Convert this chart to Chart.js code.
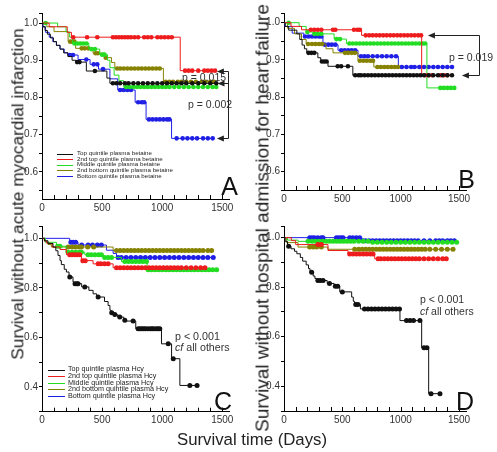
<!DOCTYPE html>
<html><head><meta charset="utf-8">
<script src="https://cdn.jsdelivr.net/npm/chart.js@4.4.1/dist/chart.umd.min.js"></script>
<style>
html,body{margin:0;padding:0;background:#fff;}
#wrap{position:relative;width:497px;height:452px;overflow:hidden;font-family:'Liberation Sans',Arial,sans-serif;}
canvas{position:absolute;}
.t{position:absolute;white-space:nowrap;color:#222;line-height:1;}
</style></head><body>
<div id="wrap">
<canvas id="cA"></canvas><canvas id="cB"></canvas><canvas id="cC"></canvas><canvas id="cD"></canvas>
<div class="t" id="tL" style="left:18px;top:194px;font-size:17.3px;transform:translate(-50%,-50%) rotate(-90deg);">Survival without acute myocardial infarction</div>
<div class="t" id="tM" style="left:262px;top:218px;font-size:19px;transform:translate(-50%,-50%) rotate(-90deg);">Survival without hospital admission for heart failure</div>
<div class="t" id="tX" style="left:252px;top:440px;font-size:16.8px;transform:translate(-50%,-50%);">Survival time (Days)</div>
</div>
<script>
// ---------- data ----------
const COLORS = ['#111111', '#ee1c1c', '#22dd22', '#868200', '#1f1fe6'];
const betaineLabels = ['Top quintile plasma betaine', '2nd top quintile plasma betaine', 'Middle quintile plasma betaine', '2nd bottom quintile plasma betaine', 'Bottom quintile plasma betaine'];
const hcyLabels = ['Top quintile plasma Hcy', '2nd top quintile plasma Hcy', 'Middle quintile plasma Hcy', '2nd bottom quintile plasma Hcy', 'Bottom quintile plasma Hcy'];
const xTickLabels = [0, 500, 1000, 1500];
const yTicksAB = [0.55, 0.6, 0.65, 0.7, 0.75, 0.8, 0.85, 0.9, 0.95, 1.0];
const yLabelsAB = [0.6, 0.7, 0.8, 0.9, 1.0];
const yTicksCD = [0.3, 0.4, 0.5, 0.6, 0.7, 0.8, 0.9, 1.0];
const yLabelsCD = [0.4, 0.6, 0.8, 1.0];

// segments: [survival, start day, [censored days]]
// Panel A: acute MI by betaine quintile
const aTop = [[1,0],[0.99,8],[0.98,25],[0.97,45],[0.96,70],[0.95,95],[0.94,120],[0.93,150],[0.92,180],[0.91,215],[0.9,250],[0.895,280,[292,312]],[0.871,369,[440]],[0.852,540],[0.838,565,[590,620,650,690,720,760,800,840,880,920,960,1000,1040,1080,1120,1160,1200,1250,1300,1350,1400,1450]]];
const aRed = [[1,0],[0.99,60],[0.975,210],[0.962,245,[260,375,460,590,615,640,665,690,715,740,770,800,850,880,910,960,990,1020,1050,1080]],[0.872,1150,[1190,1220,1250,1300,1350,1380,1410,1440]]];
const aMid = [[1,0,[30]],[0.99,130],[0.976,200],[0.962,230],[0.945,255,[270,295,320,345,370]],[0.93,390,[410,440]],[0.915,480,[500,520]],[0.9,545],[0.88,565],[0.86,600],[0.845,640],[0.828,680,[700,730,760,790,820,850,880,910,940,970,1000,1030,1060,1100,1140,1180,1220,1260,1300,1340,1380,1420,1450]]];
const aBot2 = [[1,0],[0.99,40],[0.977,100],[0.95,217,[235,255,270]],[0.932,280,[330,355,385]],[0.919,425,[445,465]],[0.907,522,[530]],[0.894,578],[0.878,606,[625,650,680,710,740,770,800,830,860,890,920,950,980]],[0.842,1010,[1030,1060,1090,1130,1160,1200,1240,1280,1330,1360,1400,1430]]];
const aBot = [[1,0],[0.99,5],[0.975,30],[0.962,60],[0.95,90],[0.94,120],[0.93,150],[0.92,185],[0.914,215,[232,258]],[0.902,300,[369]],[0.889,400,[430,460]],[0.876,470,[508]],[0.85,565],[0.82,630,[650,680,710,740]],[0.787,775,[800,830,850]],[0.741,866,[890,920,950,980,1010,1040,1060]],[0.69,1078,[1120,1170,1210,1250,1290,1340,1380,1420]]];
// Panel B: heart failure by betaine quintile
const bTop = [[1,0],[0.99,10],[0.98,40],[0.97,110],[0.955,135],[0.94,155],[0.93,175],[0.919,195,[210,235,260]],[0.906,290],[0.896,315,[325,345,365]],[0.883,377,[460,490,548]],[0.859,590,[610,640,660,690,720,750,780,810,840,870,900,930,960,990,1020,1050,1080,1110,1140,1170,1200,1240,1280,1320,1360,1400,1440]]];
const bRed = [[1,0],[0.99,60],[0.981,150,[230,260,290,320,420,440,600,630,650]],[0.966,665,[700,730,760,790,820,850,880,910,940,970,1000,1030,1060,1090,1120,1150,1175]],[0.859,1180,[1210,1240,1270,1340,1370,1400]]];
const bMid = [[1,0,[40]],[0.99,130],[0.975,190,[200]],[0.97,250,[260,290,320]],[0.956,430,[450,480]],[0.944,535,[560,590,620,650,680,710,740,770,800,830,860,890,920,950,980,1010,1040,1070,1100,1130,1160,1190,1210]],[0.825,1225,[1340,1370,1400,1430,1460]]];
const bBot2 = [[1,0],[0.985,30],[0.97,90],[0.955,150],[0.943,190,[206,240,270,300,326]],[0.93,360],[0.919,420,[523,550,580,608]],[0.898,634,[650,680,710,740,763]],[0.881,770,[800,830,860,890,920,950,977]]];
const bBot = [[1,0],[0.99,8],[0.972,70],[0.963,170,[180,210,240,270,300,320]],[0.941,334,[350,380,410,440]],[0.926,463,[490,520,550,580,610]],[0.91,634,[660,690,720,760,800,840,880,920,960]],[0.881,980,[1010,1050,1090,1120,1160,1200,1240,1280,1320,1360,1400,1440]]];
// Panel C: acute MI by Hcy quintile
const cTop = [[1,0],[0.99,20],[0.979,50],[0.965,92],[0.95,115],[0.931,133],[0.91,150],[0.894,161],[0.875,185],[0.864,203],[0.844,225,[231]],[0.824,258],[0.817,268,[275,290,300]],[0.804,330,[356]],[0.79,390],[0.776,425],[0.763,455,[467]],[0.745,520],[0.729,550],[0.71,565],[0.7,575,[580]],[0.692,595,[606]],[0.682,630,[647]],[0.669,680,[689]],[0.666,700,[758]],[0.635,780,[800,815,830,845,860,880,900,915,930,950,965,980]],[0.574,994,[1050]],[0.514,1078,[1092]],[0.406,1147,[1230,1290]]];
const cRed = [[1,0],[0.99,20],[0.98,40],[0.965,85],[0.955,150],[0.934,203,[230,250,270,290,314]],[0.91,328,[340,360]],[0.897,425,[467,490,520,550]],[0.881,592,[620,650,680,710,740,770,800,830,860,890,920,950,980,1010,1040,1070,1100,1130,1160,1200,1240,1280,1320,1356]]];
const cMid = [[1,0],[0.984,30],[0.968,120,[130,150]],[0.944,200,[217,250,280,310,328]],[0.934,356,[383,410,440,470,494]],[0.923,510,[522,550,578]],[0.906,661,[689,720,750,780,810,840,869]],[0.873,875,[883,910,940,970,1000,1030,1060,1090,1120,1150,1180,1210,1240,1270,1300,1330,1360,1390,1420,1453]]];
const cBot2 = [[1,0],[0.985,25],[0.975,50],[0.965,78,[217,250,280,310,328,380,430]],[0.951,592,[620,650,680,710,740,770,800,830,860,890,920,950,980,1010,1040,1070,1100,1130,1160,1190,1220,1250,1280,1310,1340,1380,1411]]];
const cBot = [[1,0],[0.984,230,[240,260,280]],[0.973,300,[330,383,420,460,494]],[0.952,536],[0.939,592],[0.923,620,[633,660,700,740,780,820,860,900,940,980,1020,1060,1100,1140,1180,1220,1260,1300,1340,1380,1425]]];
// Panel D: heart failure by Hcy quintile
const dTop = [[1,0],[0.985,10],[0.965,30,[40]],[0.955,60],[0.945,90],[0.935,110],[0.92,140],[0.905,160],[0.89,190],[0.875,210],[0.86,223,[237]],[0.845,250],[0.835,265],[0.827,280,[290,310,335]],[0.815,370,[390]],[0.804,430,[440,460]],[0.781,478,[500]],[0.76,580],[0.743,594],[0.73,605,[615,634]],[0.712,655,[690,720,750,780,810,840,870,900,930,960,990]],[0.665,994,[1050,1080,1110,1165]],[0.555,1180,[1200,1225]],[0.37,1240,[1260,1337]]];
const dRed = [[1,0],[0.988,63],[0.972,100,[291,320]],[0.948,377],[0.934,549,[563,590,620,650,680,710,740,763]],[0.915,777,[806,830,860,890,920,950,980,1010,1040,1070,1100,1130,1160,1200,1240,1280,1320,1360,1391]]];
const dMid = [[1,0],[0.99,30],[0.985,120,[206,240,270,300,330,360,390,420,450,480,510,540,570,600,640,680,720]],[0.981,740,[760,800,840,880,920,960,1000,1040,1080,1120,1160,1200,1240,1280,1320,1360,1400,1440,1480]]];
const dBot2 = [[1,0],[0.98,20],[0.962,120,[220,250,280,320]],[0.953,377,[606,640,670,700,730,760,790,820,850,880,910,940,970,1000,1030,1060,1090,1120,1150,1180,1210,1250,1300,1350,1400,1449]]];
const dBot = [[1,0,[220,240,260,290,320,334,449,470,490,506,563,590,620,649]],[0.987,663,[677,700,730,760,790,820,850,880,910,940,970,1000,1030,1060,1090,1120,1150,1200,1250,1300,1330,1360,1400,1430,1460]]];

// p-value brackets: [survival level, arrow tip day]
const pBarA = 1550;
const pArrowsA = [[0.872,1455],[0.838,1460],[0.69,1455]];
const pBarB = 1671;
const pArrowsB = [[0.966,1234],[0.859,1525]];

// ---------- helpers ----------
const FONT = "'Liberation Sans', Arial, sans-serif";
function buildPoints(segs) {
  const pts = [];
  segs.forEach(s => {
    pts.push([s[1], s[0], 0]);
    (s[2] || []).forEach(t => pts.push([t, s[0], 1]));
  });
  return pts;
}
const isIn = (arr, v) => arr.some(l => Math.abs(l - v) < 1e-6);

const decoPlugin = {
  id: 'deco',
  afterDraw(chart, args, o) {
    const ctx = chart.ctx, xs = chart.scales.x, ys = chart.scales.y, a = chart.chartArea;
    ctx.save();
    // inward minor ticks on x axis
    ctx.strokeStyle = '#000'; ctx.lineWidth = 1;
    ctx.beginPath();
    for (let t = 100; t <= 1500; t += 100) {
      const x = Math.round(xs.getPixelForValue(t)) + 0.5;
      ctx.moveTo(x, a.bottom); ctx.lineTo(x, a.bottom - 4);
    }
    ctx.stroke();
    // legend
    if (o.legend) {
      const L = o.legend;
      ctx.font = L.size + 'px ' + FONT;
      ctx.textBaseline = 'middle'; ctx.textAlign = 'left';
      chart.data.datasets.forEach((d, i) => {
        const y = L.y0 + i * L.dy;
        ctx.strokeStyle = d.borderColor; ctx.lineWidth = 1;
        ctx.beginPath(); ctx.moveTo(L.x0, Math.round(y) + 0.5); ctx.lineTo(L.x1, Math.round(y) + 0.5); ctx.stroke();
        ctx.fillStyle = '#222';
        ctx.fillText(d.label, L.tx, y);
      });
    }
    // brackets with arrows
    if (o.bar) {
      ctx.strokeStyle = '#222'; ctx.fillStyle = '#222'; ctx.lineWidth = 1;
      const bx = Math.round(xs.getPixelForValue(o.bar)) + 0.5;
      const lv = o.arrows.map(r => ys.getPixelForValue(r[0]));
      ctx.beginPath();
      ctx.moveTo(bx, Math.round(Math.min(...lv)) + 0.5);
      ctx.lineTo(bx, Math.round(Math.max(...lv)) + 0.5);
      o.arrows.forEach(r => {
        const y = Math.round(ys.getPixelForValue(r[0])) + 0.5;
        const tip = xs.getPixelForValue(r[1]);
        ctx.moveTo(bx, y); ctx.lineTo(tip + 5, y);
      });
      ctx.stroke();
      o.arrows.forEach(r => {
        const y = Math.round(ys.getPixelForValue(r[0])) + 0.5;
        const tip = xs.getPixelForValue(r[1]);
        ctx.beginPath(); ctx.moveTo(tip, y); ctx.lineTo(tip + 7, y - 3); ctx.lineTo(tip + 7, y + 3); ctx.closePath(); ctx.fill();
      });
    }
    // notes
    (o.notes || []).forEach(n => {
      ctx.fillStyle = '#333'; ctx.textBaseline = 'middle'; ctx.textAlign = 'left';
      if (n.italic) {
        ctx.font = 'italic ' + n.size + 'px ' + FONT;
        ctx.fillText(n.italic, n.x, n.y);
        const w = ctx.measureText(n.italic).width;
        ctx.font = n.size + 'px ' + FONT;
        ctx.fillText(n.text, n.x + w, n.y);
      } else {
        ctx.font = n.size + 'px ' + FONT;
        ctx.fillText(n.text, n.x, n.y);
      }
    });
    // panel letter
    if (o.letter) {
      ctx.fillStyle = '#111'; ctx.textAlign = 'right'; ctx.textBaseline = 'alphabetic';
      ctx.font = o.letter.size + 'px ' + FONT;
      ctx.fillText(o.letter.text, o.letter.x, o.letter.y);
    }
    ctx.restore();
  }
};

function panel(id, box, area, yr, series, labels, deco, dotR) {
  const cv = document.getElementById(id);
  cv.width = box.w; cv.height = box.h;
  cv.style.left = box.x + 'px'; cv.style.top = box.y + 'px';
  cv.style.width = box.w + 'px'; cv.style.height = box.h + 'px';
  const yW = area.l - box.x;
  const pad = { left: 0, top: area.t - box.y, right: box.x + box.w - area.r, bottom: box.y + box.h - area.b - 16 };
  const datasets = series.map((s, i) => ({
    label: labels[i],
    data: buildPoints(s),
    borderColor: COLORS[i],
    backgroundColor: COLORS[i],
    borderWidth: 1,
    stepped: true,
    pointRadius: c => (c.raw && c.raw[2]) ? dotR : 0,
    pointHoverRadius: 0,
    pointBorderWidth: 0,
    pointBackgroundColor: COLORS[i],
    fill: false
  }));
  new Chart(cv, {
    type: 'line',
    data: { datasets },
    options: {
      responsive: false, animation: false, events: [],
      layout: { padding: pad },
      plugins: { legend: { display: false }, tooltip: { enabled: false }, deco },
      scales: {
        x: {
          type: 'linear', min: 0, max: 1560,
          border: { display: true, color: '#000', width: 1 },
          grid: { display: false, drawTicks: false },
          ticks: { autoSkip: false, maxRotation: 0, padding: 3, color: '#333',
            font: { family: FONT, size: 10 },
            callback: v => isIn(xTickLabels, v) ? String(v) : '' },
          afterBuildTicks: s => { s.ticks = xTickLabels.map(v => ({ value: v })); },
          afterFit: s => { s.height = 16; }
        },
        y: {
          type: 'linear', min: yr.min, max: yr.max,
          border: { display: true, color: '#000', width: 1 },
          grid: { display: true, drawOnChartArea: false, drawTicks: true, tickLength: 3, color: '#000', lineWidth: 1 },
          ticks: { autoSkip: false, padding: 1, color: '#333',
            font: { family: FONT, size: 10 },
            callback: v => isIn(yr.labels, v) ? Number(v).toFixed(1) : '' },
          afterBuildTicks: s => { s.ticks = yr.ticks.concat([yr.max]).map(v => ({ value: v })); },
          afterFit: s => { s.width = yW; }
        }
      }
    },
    plugins: [decoPlugin]
  });
}

// ---------- panels ----------
panel('cA', { x: 0, y: 0, w: 248, h: 215 }, { l: 42, t: 13, r: 229.5, b: 199 },
  { min: 0.527, max: 1.027, ticks: yTicksAB, labels: yLabelsAB },
  [aTop, aRed, aMid, aBot2, aBot], betaineLabels,
  { legend: { x0: 57, x1: 73, tx: 77, y0: 153.5, dy: 5.6, size: 6.2 },
    bar: pBarA, arrows: pArrowsA,
    notes: [{ text: 'p = 0.015', x: 182, y: 78, size: 10.5 }, { text: 'p = 0.002', x: 188, y: 105, size: 10.5 }],
    letter: { text: 'A', x: 238, y: 195, size: 25 } }, 2.3);

panel('cB', { x: 248, y: 0, w: 249, h: 215 }, { l: 284, t: 13, r: 466, b: 190 },
  { min: 0.551, max: 1.026, ticks: yTicksAB, labels: yLabelsAB },
  [bTop, bRed, bMid, bBot2, bBot], betaineLabels,
  { bar: pBarB, arrows: pArrowsB,
    notes: [{ text: 'p = 0.019', x: 201, y: 58, size: 10.5 }],
    letter: { text: 'B', x: 227, y: 188, size: 25 } }, 2.3);

panel('cC', { x: 0, y: 215, w: 248, h: 237 }, { l: 42, t: 226.7, r: 229.5, b: 411.7 },
  { min: 0.3, max: 1.047, ticks: yTicksCD, labels: yLabelsCD },
  [cTop, cRed, cMid, cBot2, cBot], hcyLabels,
  { legend: { x0: 48, x1: 65, tx: 68, y0: 154.5, dy: 6.6, size: 7.2 },
    notes: [{ text: 'p < 0.001', x: 175, y: 122, size: 10.7 }, { italic: 'cf', text: ' all others', x: 175, y: 133.5, size: 10.7 }],
    letter: { text: 'C', x: 232, y: 195, size: 25 } }, 2.5);

panel('cD', { x: 248, y: 215, w: 249, h: 237 }, { l: 284, t: 226, r: 466, b: 411 },
  { min: 0.3, max: 1.047, ticks: yTicksCD, labels: yLabelsCD },
  [dTop, dRed, dMid, dBot2, dBot], hcyLabels,
  { notes: [{ text: 'p < 0.001', x: 172, y: 85, size: 10.5 }, { italic: 'cf', text: ' all others', x: 172, y: 97, size: 10.5 }],
    letter: { text: 'D', x: 226, y: 195, size: 25 } }, 2.5);
</script>
</body></html>
